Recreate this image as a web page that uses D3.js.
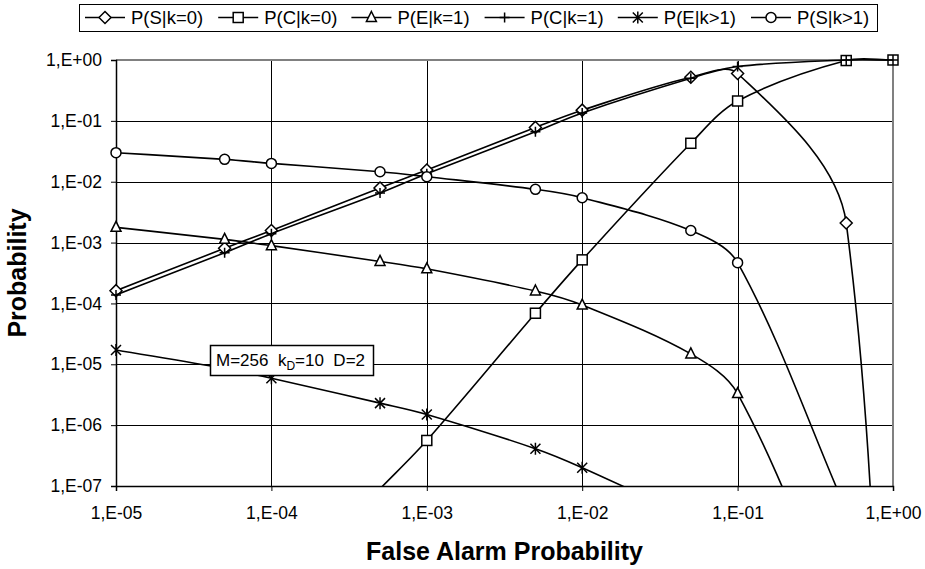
<!DOCTYPE html>
<html>
<head>
<meta charset="utf-8">
<script src="https://cdn.jsdelivr.net/npm/d3@7"></script>
<style>
  body { margin: 0; background: #fff; }
  text { font-family: Arial, "Liberation Sans", sans-serif; fill: #000; }
</style>
</head>
<body>
<div id="chart"></div>
<script>
// false alarm probabilities (x)
var falseAlarm = [1e-5, 5e-5, 1e-4, 5e-4, 1e-3, 5e-3, 1e-2, 5e-2, 1e-1, 5e-1, 1];

// series values (null = not drawn, tiny values fall below the axis)
var pS_k0  = [1.62e-4, 8.05e-4, 1.58e-3, 7.9e-3, 0.0156, 0.078, 0.15, 0.52, 0.60, 2.1e-3, 1e-20];
var pC_k0  = [null, null, null, 9e-8, 5.6e-7, 6.9e-5, 5.2e-4, 0.0428, 0.212, 0.98, 1.0];
var pE_k1  = [1.78e-3, 1.13e-3, 8.9e-4, 4.9e-4, 3.7e-4, 1.6e-4, 9.4e-5, 1.48e-5, 3.3e-6, 3e-10, null];
var pC_k1  = [1.38e-4, 6.8e-4, 1.4e-3, 6.5e-3, 0.0135, 0.066, 0.135, 0.50, 0.78, 1.0, 1.0];
var pE_kg1 = [1.72e-5, 8.5e-6, 5.9e-6, 2.3e-6, 1.5e-6, 4.1e-7, 2.0e-7, 3e-8, null, null, null];
var pS_kg1 = [0.030, 0.0233, 0.020, 0.0146, 0.0121, 0.0075, 0.00546, 0.00158, 4.68e-4, 4e-8, null];

var seriesNames = ["P(S|k=0)", "P(C|k=0)", "P(E|k=1)", "P(C|k=1)", "P(E|k>1)", "P(S|k>1)"];
var seriesValues = [pS_k0, pC_k0, pE_k1, pC_k1, pE_kg1, pS_kg1];
var seriesMarkers = ["diamond", "square", "triangle", "plus", "asterisk", "circle"];

var xTicks = [1e-5, 1e-4, 1e-3, 1e-2, 1e-1, 1];
var xTickLabels = ["1,E-05", "1,E-04", "1,E-03", "1,E-02", "1,E-01", "1,E+00"];
var yTicks = [1, 1e-1, 1e-2, 1e-3, 1e-4, 1e-5, 1e-6, 1e-7];
var yTickLabels = ["1,E+00", "1,E-01", "1,E-02", "1,E-03", "1,E-04", "1,E-05", "1,E-06", "1,E-07"];

(function() {
    "use strict";
    var width = 925, height = 569;
    var pl = 116, pr = 893, pt = 60, pb = 486;

    var svg = d3.select("#chart").append("svg")
        .attr("width", width)
        .attr("height", height);

    var x = d3.scaleLog().domain([1e-5, 1]).range([pl, pr]);
    var y = d3.scaleLog().domain([1e-7, 1]).range([pb, pt]);

    // smoothed line, bezier handles scaled by the neighbouring segment lengths
    function smoothCurve(context) {
        var pts;
        return {
            areaStart: function() {},
            areaEnd: function() {},
            lineStart: function() { pts = []; },
            point: function(px, py) { pts.push([+px, +py]); },
            lineEnd: function() {
                var n = pts.length;
                if (!n) return;
                context.moveTo(pts[0][0], pts[0][1]);
                function dist(a, b) { return Math.sqrt((a[0] - b[0]) * (a[0] - b[0]) + (a[1] - b[1]) * (a[1] - b[1])); }
                for (var i = 0; i < n - 1; i++) {
                    var p0 = pts[Math.max(i - 1, 0)], p1 = pts[i], p2 = pts[i + 1], p3 = pts[Math.min(i + 2, n - 1)];
                    var d01 = dist(p0, p1), d12 = dist(p1, p2), d23 = dist(p2, p3);
                    var f1 = d12 / (d01 + d12) / 3, f2 = d12 / (d12 + d23) / 3;
                    context.bezierCurveTo(
                        p1[0] + (p2[0] - p0[0]) * f1, p1[1] + (p2[1] - p0[1]) * f1,
                        p2[0] - (p3[0] - p1[0]) * f2, p2[1] - (p3[1] - p1[1]) * f2,
                        p2[0], p2[1]);
                }
            }
        };
    }

    // grid
    svg.append("g").selectAll("line")
        .data(yTicks.slice(1, -1))
        .enter().append("line")
        .attr("x1", pl).attr("x2", pr)
        .attr("y1", function(d) { return Math.round(y(d)) + 0.5; })
        .attr("y2", function(d) { return Math.round(y(d)) + 0.5; })
        .attr("stroke", "#000").attr("stroke-width", 1);
    svg.append("g").selectAll("line")
        .data(xTicks.slice(1, -1))
        .enter().append("line")
        .attr("y1", pt).attr("y2", pb)
        .attr("x1", function(d) { return Math.round(x(d)) + 0.5; })
        .attr("x2", function(d) { return Math.round(x(d)) + 0.5; })
        .attr("stroke", "#000").attr("stroke-width", 1);

    // plot border top / right (grey)
    svg.append("path")
        .attr("d", "M" + pl + "," + pt + "H" + pr + "V" + pb)
        .attr("fill", "none").attr("stroke", "#808080").attr("stroke-width", 2);

    // axes
    var yAxis = d3.axisLeft(y).tickValues(yTicks).tickSize(5)
        .tickFormat(function(d, i) { return yTickLabels[i]; });
    var xAxis = d3.axisBottom(x).tickValues(xTicks).tickSize(5)
        .tickFormat(function(d, i) { return xTickLabels[i]; });

    var gy = svg.append("g").attr("transform", "translate(" + pl + ",0)").call(yAxis);
    var gx = svg.append("g").attr("transform", "translate(0," + pb + ")").call(xAxis);
    [gx, gy].forEach(function(g) {
        g.select(".domain").attr("stroke", "#000").attr("stroke-width", 1.5);
        g.selectAll(".tick line").attr("stroke", "#000");
        g.selectAll(".tick text").style("font-size", "17.5px")
            .style("font-family", "Arial, 'Liberation Sans', sans-serif");
    });
    gy.selectAll(".tick text").attr("x", -14);
    gx.selectAll(".tick text").attr("y", 21);

    // axis titles
    svg.append("text")
        .attr("x", (pl + pr) / 2).attr("y", 560)
        .attr("text-anchor", "middle")
        .style("font-size", "25px").style("font-weight", "bold")
        .text("False Alarm Probability");
    svg.append("text")
        .attr("transform", "translate(26," + ((pt + pb) / 2) + ") rotate(-90)")
        .attr("text-anchor", "middle")
        .style("font-size", "25px").style("font-weight", "bold")
        .text("Probability");

    // clip for the lines
    svg.append("clipPath").attr("id", "plotclip")
        .append("rect")
        .attr("x", pl).attr("y", pt - 6)
        .attr("width", pr - pl + 1).attr("height", pb - pt + 6);

    function drawMarker(g, type, cx, cy) {
        var s = 5;
        if (type === "diamond") {
            g.append("path").attr("d", "M" + cx + "," + (cy - s - 1) + "L" + (cx + s + 1) + "," + cy +
                "L" + cx + "," + (cy + s + 1) + "L" + (cx - s - 1) + "," + cy + "Z")
                .attr("fill", "#fff").attr("stroke", "#000").attr("stroke-width", 1.5);
        } else if (type === "square") {
            g.append("rect").attr("x", cx - s).attr("y", cy - s).attr("width", 2 * s).attr("height", 2 * s)
                .attr("fill", "#fff").attr("stroke", "#000").attr("stroke-width", 1.5);
        } else if (type === "triangle") {
            g.append("path").attr("d", "M" + cx + "," + (cy - s - 1) + "L" + (cx + s) + "," + (cy + s - 1) +
                "L" + (cx - s) + "," + (cy + s - 1) + "Z")
                .attr("fill", "#fff").attr("stroke", "#000").attr("stroke-width", 1.5);
        } else if (type === "circle") {
            g.append("circle").attr("cx", cx).attr("cy", cy).attr("r", s)
                .attr("fill", "#fff").attr("stroke", "#000").attr("stroke-width", 1.5);
        } else if (type === "plus") {
            g.append("path").attr("d", "M" + (cx - s) + "," + cy + "H" + (cx + s) + "M" + cx + "," + (cy - s) + "V" + (cy + s))
                .attr("stroke", "#000").attr("stroke-width", 1.5);
        } else if (type === "asterisk") {
            g.append("path").attr("d", "M" + (cx - s) + "," + (cy - s) + "L" + (cx + s) + "," + (cy + s) +
                "M" + (cx + s) + "," + (cy - s) + "L" + (cx - s) + "," + (cy + s) +
                "M" + cx + "," + (cy - s - 1) + "V" + (cy + s + 1))
                .attr("stroke", "#000").attr("stroke-width", 1.5);
        }
    }

    var line = d3.line()
        .x(function(d) { return x(d.x); })
        .y(function(d) { return y(d.v); })
        .curve(smoothCurve);

    seriesValues.forEach(function(vals, si) {
        var pts = vals.map(function(v, i) { return { x: falseAlarm[i], v: v }; })
            .filter(function(d) { return d.v !== null; });
        var g = svg.append("g");
        g.append("path")
            .attr("clip-path", "url(#plotclip)")
            .attr("d", line(pts))
            .attr("fill", "none").attr("stroke", "#000").attr("stroke-width", 1.6);
        pts.forEach(function(d) {
            var py = y(d.v);
            if (py <= pb + 1 && py >= pt - 1) drawMarker(g, seriesMarkers[si], x(d.x), py);
        });
    });

    // annotation box
    var note = svg.append("g");
    note.append("rect").attr("x", 210.5).attr("y", 345.5).attr("width", 163).attr("height", 30)
        .attr("fill", "#fff").attr("stroke", "#000").attr("stroke-width", 1.5);
    var nt = note.append("text").attr("x", 216).attr("y", 366).style("font-size", "17px")
        .attr("xml:space", "preserve");
    nt.append("tspan").text("M=256  k");
    nt.append("tspan").attr("dy", 4).style("font-size", "12px").text("D");
    nt.append("tspan").attr("dy", -4).text("=10  D=2");

    // legend
    var legend = svg.append("g");
    var legX = 79.5, legW = 798, legPitch = 133.2, ly = 17.5;
    legend.append("rect")
        .attr("x", legX).attr("y", 4.5).attr("width", legW).attr("height", 27)
        .attr("fill", "#fff").attr("stroke", "#000").attr("stroke-width", 1);
    seriesNames.forEach(function(name, i) {
        var lx = 85 + i * legPitch;
        var item = legend.append("g");
        item.append("line").attr("x1", lx).attr("x2", lx + 40).attr("y1", ly).attr("y2", ly)
            .attr("stroke", "#000").attr("stroke-width", 1.6);
        drawMarker(item, seriesMarkers[i], lx + 20, ly);
        item.append("text").attr("x", lx + 46).attr("y", ly + 6.5)
            .style("font-size", "18.5px").text(name);
    });
})();
</script>
</body>
</html>
